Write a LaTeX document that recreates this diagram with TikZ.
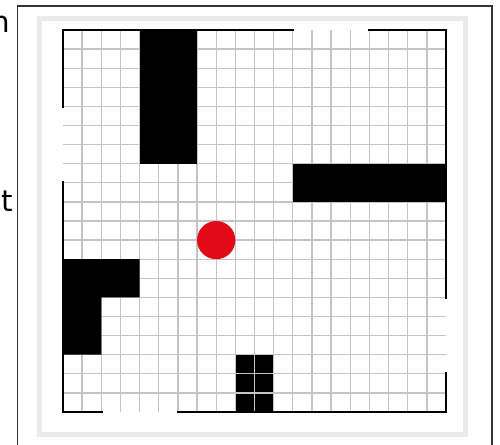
\documentclass[tikz,border=0pt]{standalone}
\usepackage{fontspec}
\newfontfamily\lblfont{DejaVu Sans}
\definecolor{bandgray}{HTML}{EBEBEB}
\definecolor{gridgray}{HTML}{C4C4C4}
\definecolor{ballred}{HTML}{E30A17}
\begin{document}
\begin{tikzpicture}[x=0.75pt,y=-0.75pt,
  frameline/.style={draw=black!80,line width=1.3pt},
  bandline/.style={draw=bandgray,line width=3.75pt},
  gridline/.style={draw=gridgray,line width=1pt},
  wall/.style={draw=black,line width=2pt,line cap=rect,line join=miter},
  block/.style={fill=black},
  lbl/.style={inner sep=0pt,font=\lblfont\fontsize{22}{26}\selectfont}]
\useasboundingbox (0,0) rectangle (500,444);
\fill[white] (0,0) rectangle (500,444);
% outer frame (bottom edge lies below the picture)
\draw[frameline] (17.5,450) -- (17.5,5.7) -- (492,5.7) -- (492,450);
% light gray band
\draw[bandline] (39.5,18.5) rectangle (465.5,434);
% cut-off labels on the left
\node[lbl,anchor=base east] (labh) at (10,32) {h};
\node[lbl,anchor=base east] (labt) at (13,211) {t};
% maze grid
\begin{scope}[shift={(47.25pt,-22.5pt)},x=14.3625pt,y=-14.325pt]
  \fill[black] (9,17) rectangle (11,20);
  \foreach \i in {1,...,19} {
    \draw[gridline] (\i,0) -- (\i,20);
    \draw[gridline] (0,\i) -- (20,\i);
  }
  \fill[block] (4,0) rectangle (7,7);
  \fill[block] (12,7) rectangle (20,9);
  \fill[block] (0,12) -- (4,12) -- (4,14) -- (2,14) -- (2,17) -- (0,17) -- cycle;
  \draw[wall] (0,4) -- (0,0) -- (12,0);
  \draw[wall] (16,0) -- (20,0) -- (20,14);
  \draw[wall] (0,8) -- (0,20) -- (2,20);
  \draw[wall] (6,20) -- (20,20) -- (20,18);
  \fill[ballred] (8,11) circle[x radius=14.3625pt,y radius=14.325pt];
\end{scope}
\end{tikzpicture}
\end{document}
